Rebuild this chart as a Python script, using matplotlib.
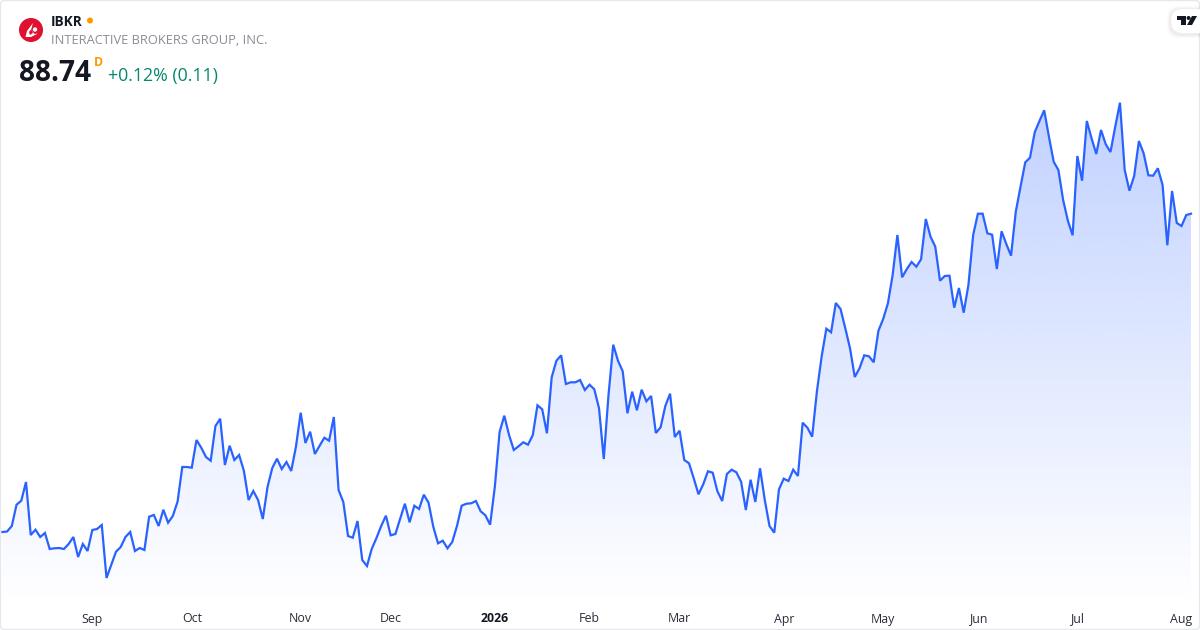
import numpy as np
import matplotlib
matplotlib.use("Agg")
import matplotlib.pyplot as plt
from matplotlib.patches import Circle, FancyBboxPatch, Polygon

plt.rcParams['font.family'] = ['Open Sans', 'Noto Sans', 'DejaVu Sans']

symbol = "IBKR"
company = "INTERACTIVE BROKERS GROUP, INC."
last_price = "88.74"
change = "+0.12% (0.11)"
tick_labels = ["Sep", "Oct", "Nov", "Dec", "2026", "Feb", "Mar", "Apr", "May", "Jun", "Jul", "Aug"]
tick_index = [19, 40, 63, 82, 104, 124, 143, 165, 186, 206, 227, 249]
prices = [
    56.91, 56.96, 57.51, 59.64, 60.04, 61.91, 56.61, 57.14, 56.41, 56.81,
    55.21, 55.28, 55.31, 55.21, 55.71, 56.41, 54.41, 55.71, 55.01, 57.11,
    57.21, 57.61, 52.31, 53.61, 54.94, 55.41, 56.41, 56.91, 55.01, 55.31,
    55.11, 58.44, 58.61, 57.51, 59.14, 57.84, 58.51, 59.94, 63.41, 63.41,
    63.34, 66.11, 65.34, 64.41, 64.04, 67.51, 68.24, 63.61, 65.54, 64.11,
    64.61, 63.04, 60.11, 61.01, 60.11, 58.21, 61.41, 63.31, 64.24, 63.21,
    63.91, 63.01, 65.44, 68.84, 65.81, 66.94, 64.71, 65.54, 66.34, 66.04,
    68.41, 61.11, 59.91, 56.51, 56.34, 58.01, 54.11, 53.51, 55.21, 56.31,
    57.51, 58.54, 56.58, 56.71, 58.21, 59.74, 57.88, 59.54, 59.21, 60.64,
    59.84, 57.44, 55.78, 56.04, 55.28, 55.91, 57.51, 59.54, 59.74, 59.78,
    60.01, 58.98, 58.58, 57.64, 61.44, 66.91, 68.54, 66.61, 65.11, 65.48,
    65.88, 65.64, 66.58, 69.58, 69.18, 66.78, 72.38, 74.04, 74.58, 71.71,
    71.88, 71.88, 72.11, 71.11, 71.64, 71.18, 69.28, 64.21, 70.61, 75.64,
    74.04, 72.98, 68.78, 70.94, 69.08, 71.14, 69.98, 70.51, 66.81, 67.38,
    69.51, 70.74, 66.41, 67.04, 64.11, 63.78, 62.28, 60.68, 61.68, 62.98,
    62.84, 60.98, 60.01, 62.71, 63.14, 62.88, 61.94, 59.11, 62.14, 59.91,
    63.28, 60.11, 57.51, 56.84, 61.18, 62.24, 62.01, 63.14, 62.51, 67.84,
    67.34, 66.44, 70.94, 74.44, 77.24, 76.88, 79.81, 79.21, 77.28, 75.28,
    72.41, 73.28, 74.58, 74.48, 73.88, 77.04, 78.21, 79.78, 82.61, 86.61,
    82.38, 83.21, 83.91, 83.44, 84.18, 88.21, 86.44, 85.44, 82.04, 82.51,
    82.54, 79.34, 81.31, 78.84, 81.61, 86.61, 88.74, 88.74, 86.78, 86.64,
    83.21, 86.98, 85.71, 84.54, 88.94, 91.44, 93.88, 94.34, 96.88, 98.01,
    99.08, 96.44, 93.94, 93.11, 90.11, 88.04, 86.58, 94.51, 92.04, 98.01,
    96.28, 94.71, 97.11, 95.68, 94.91, 97.44, 99.84, 93.11, 91.04, 92.51,
    96.01, 94.78, 92.58, 92.54, 93.28, 91.61, 85.58, 91.01, 87.81, 87.51,
    88.61, 88.74,
]

W, H = 1200, 630
fig = plt.figure(figsize=(W / 100, H / 100), dpi=100, facecolor="white")

n = len(prices)
idx = np.arange(n)
step = (1191 - 2.33) / (n - 1)
ax = fig.add_axes([0, 0, 1, 1])
ax.axis("off")

line_color = "#2962ff"
floor = 110.11 - 60.5
top = 110.11 - 10.0
grad = np.zeros((256, 1, 4))
grad[..., 0] = 41 / 255
grad[..., 1] = 98 / 255
grad[..., 2] = 1.0
grad[..., 3] = np.linspace(0.29, 0.0, 256)[:, None]
im = ax.imshow(grad, extent=[0, n - 1, floor, top], aspect="auto", origin="upper",
               interpolation="bilinear", zorder=1)
poly = Polygon(np.column_stack([np.r_[idx, n - 1, 0], np.r_[prices, floor, floor]]),
               closed=True, transform=ax.transData, facecolor="none", edgecolor="none")
ax.add_patch(poly)
im.set_clip_path(poly)
ax.set_xlim(-2.33 / step, (W - 2.33) / step)
ax.set_ylim(110.11 - 63.0, 110.11)
ax.plot(idx, prices, color=line_color, lw=1.6, solid_joinstyle="miter", zorder=3)

for i, lab in zip(tick_index, tick_labels):
    bold = lab.isdigit()
    ax.text(i, 110.11 - 61.9, lab, ha="center", va="center", fontsize=8.9,
            color="#131722" if bold else "#2a2e39", fontweight="bold" if bold else "normal", zorder=4)

ov = fig.add_axes([0, 0, 1, 1], facecolor="none")
ov.set_xlim(0, W)
ov.set_ylim(H, 0)
ov.axis("off")

ov.add_patch(FancyBboxPatch((0.5, 0.5), W - 1, H - 1, boxstyle="round,pad=0,rounding_size=4",
                            fc="none", ec="#e6e8ec", lw=1.0))

# Logo
ov.add_patch(Circle((31, 30), 12, fc="#e01030", ec="none"))
ov.add_patch(Polygon([(25.5, 37), (27, 31), (33, 23), (31, 30), (34.5, 34), (38, 33.5), (31, 37)],
                     closed=True, fc="white", ec="none"))
ov.add_patch(Polygon([(29, 32), (31, 29.5), (33, 33), (30, 35)], closed=True, fc="#e01030", ec="none"))
ov.add_patch(Circle((35, 29.5), 2.2, fc="white", ec="none"))

ov.text(51, 22.3, symbol, fontsize=9.8, fontweight="bold", color="#131722", va="center", ha="left")
ov.add_patch(Circle((90, 20.5), 3, fc="#ff9800", ec="none"))
ov.text(51, 41, company, fontsize=9.3, color="#8a8d96", va="center", ha="left")
ov.text(19, 73.5, last_price, fontsize=20.2, fontweight="bold", color="#131722", va="center", ha="left")
ov.text(93.5, 62.5, "D", fontsize=8.8, fontweight="bold", color="#ff9800", va="center", ha="left")
ov.text(108, 76, change, fontsize=12.75, color="#08876f", va="center", ha="left")

# TradingView badge (runs off the right edge)
for r, a in zip([8, 6, 4], [0.015, 0.02, 0.03]):
    ov.add_patch(FancyBboxPatch((1171 - r / 2, 9 - r / 2 + 1), 60 + r, 24 + r,
                                boxstyle="round,pad=0,rounding_size=12", fc="black", alpha=a, ec="none"))
ov.add_patch(FancyBboxPatch((1171, 9), 60, 24, boxstyle="round,pad=0,rounding_size=12", fc="white", ec="none"))
ov.add_patch(Polygon([(1177, 16), (1186, 16), (1186, 25), (1181, 25), (1181, 20), (1177, 20)], fc="#131722", ec="none"))
ov.add_patch(Circle((1188.6, 18), 2, fc="#131722", ec="none"))
ov.add_patch(Polygon([(1192, 16), (1197, 16), (1192, 25), (1187, 25)], fc="#131722", ec="none"))

fig.savefig("out.png", dpi=100)
